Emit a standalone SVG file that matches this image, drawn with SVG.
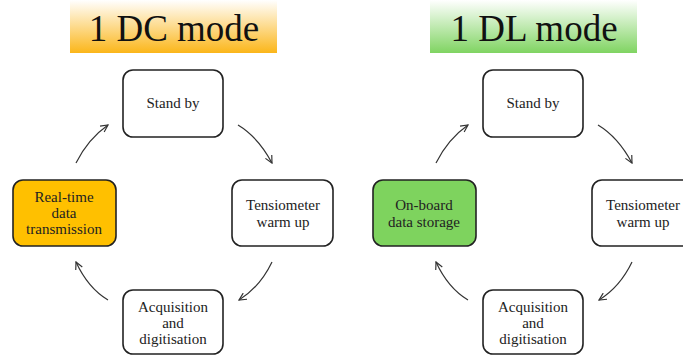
<svg xmlns="http://www.w3.org/2000/svg" width="683" height="356" viewBox="0 0 683 356">
<defs>
<linearGradient id="gOrange" x1="0" y1="0" x2="0" y2="1">
<stop offset="0" stop-color="#ffffff"/>
<stop offset="1" stop-color="#fbb61a"/>
</linearGradient>
<linearGradient id="gGreen" x1="0" y1="0" x2="0" y2="1">
<stop offset="0" stop-color="#ffffff"/>
<stop offset="1" stop-color="#80d462"/>
</linearGradient>
<marker id="ah" viewBox="0 0 10 10" refX="9" refY="5" markerWidth="9" markerHeight="9" markerUnits="userSpaceOnUse" orient="auto">
<path d="M1,1 L9,5 L1,9" fill="none" stroke="#333" stroke-width="1.3"/>
</marker>
</defs>
<style>
.box{fill:#fff;stroke:#222;stroke-width:1.6}
.t{font-family:"Liberation Serif","Times New Roman",serif;font-size:15px;fill:#222;text-anchor:middle}
.title{font-family:"Liberation Serif","Times New Roman",serif;font-size:37px;fill:#111;text-anchor:middle}
.arr{fill:none;stroke:#333;stroke-width:1.2;marker-end:url(#ah)}
</style>
<rect width="683" height="356" fill="#fff"/>
<g id="title-dc">
<rect x="70" y="0" width="207" height="53" fill="url(#gOrange)"/>
<text class="title" x="174" y="41">1 DC mode</text>
</g>
<g id="title-dl">
<rect x="430" y="0" width="207" height="53" fill="url(#gGreen)"/>
<text class="title" x="534" y="41">1 DL mode</text>
</g>
<g id="dc-standby">
<rect class="box" x="123" y="70" width="100" height="67" rx="10"/>
<text class="t" x="173" y="108">Stand by</text>
</g>
<g id="dc-tensiometer">
<rect class="box" x="232" y="180" width="101" height="66" rx="10"/>
<text class="t" x="283" y="210">Tensiometer</text>
<text class="t" x="283" y="227">warm up</text>
</g>
<g id="dc-acquisition">
<rect class="box" x="123" y="290" width="100" height="64" rx="10"/>
<text class="t" x="173" y="312">Acquisition</text>
<text class="t" x="173" y="328">and</text>
<text class="t" x="173" y="344">digitisation</text>
</g>
<g id="dc-realtime">
<rect class="box" x="13" y="180" width="103" height="66" rx="10" style="fill:#ffc000"/>
<text class="t" x="64" y="202">Real-time</text>
<text class="t" x="64" y="218">data</text>
<text class="t" x="64" y="234">transmission</text>
</g>
<g id="dl-standby">
<rect class="box" x="483" y="70" width="100" height="67" rx="10"/>
<text class="t" x="533" y="108">Stand by</text>
</g>
<g id="dl-tensiometer">
<rect class="box" x="592" y="180" width="101" height="66" rx="10"/>
<text class="t" x="643" y="210">Tensiometer</text>
<text class="t" x="643" y="227">warm up</text>
</g>
<g id="dl-acquisition">
<rect class="box" x="483" y="290" width="100" height="64" rx="10"/>
<text class="t" x="533" y="312">Acquisition</text>
<text class="t" x="533" y="328">and</text>
<text class="t" x="533" y="344">digitisation</text>
</g>
<g id="dl-onboard">
<rect class="box" x="373" y="180" width="103" height="66" rx="10" style="fill:#7ed35e"/>
<text class="t" x="424" y="210">On-board</text>
<text class="t" x="424" y="227">data storage</text>
</g>
<g id="connectors">
<path class="arr" d="M76,163 Q88,139 108,125"/>
<path class="arr" d="M238,125 Q258,137 272,163"/>
<path class="arr" d="M272,262 Q260,287 239,300"/>
<path class="arr" d="M108,300 Q88,288 76,262"/>
<path class="arr" d="M436,163 Q448,139 468,125"/>
<path class="arr" d="M598,125 Q618,137 632,163"/>
<path class="arr" d="M632,262 Q620,287 599,300"/>
<path class="arr" d="M468,300 Q448,288 436,262"/>
</g>
</svg>
